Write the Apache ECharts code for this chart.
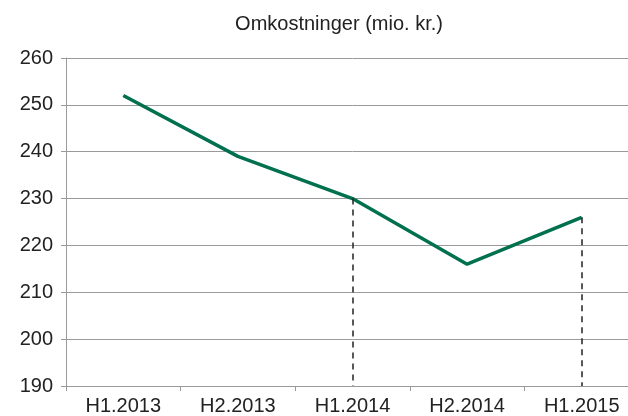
<!DOCTYPE html>
<html>
<head>
<meta charset="utf-8">
<script src="https://cdn.jsdelivr.net/npm/echarts@6/dist/echarts.min.js"></script>
<style>html,body{margin:0;padding:0;background:#fff;overflow:hidden;width:628px;height:416px;}#c{width:640px;height:416px;}</style>
</head>
<body>
<div id="c"></div>
<script>
const titleText = 'Omkostninger (mio. kr.)';
const categories = ['H1.2013', 'H2.2013', 'H1.2014', 'H2.2014', 'H1.2015'];
const costs = [252, 239, 230, 216, 226];
const dropCategories = ['H1.2014', 'H1.2015'];
const yMin = 190, yMax = 260, yStep = 10;

const dropLines = dropCategories.map(c => {
  const v = costs[categories.indexOf(c)];
  return [{ coord: [c, v] }, { coord: [c, yMin] }];
});

const chart = echarts.init(document.getElementById('c'), null, { renderer: 'canvas' });
chart.setOption({
  animation: false,
  backgroundColor: '#ffffff',
  textStyle: { fontFamily: 'Liberation Sans' },
  title: {
    text: titleText,
    left: 334, textAlign: 'center',
    top: 9,
    textStyle: { fontFamily: 'Liberation Sans', fontSize: 20, fontWeight: 'normal', color: '#222' }
  },
  grid: { left: 66, top: 58, right: 1, bottom: 30, containLabel: false },
  xAxis: {
    type: 'category',
    data: categories,
    boundaryGap: true,
    axisLine: { show: true, lineStyle: { color: '#9a9a9a', width: 1 } },
    axisTick: { show: true, length: 5, lineStyle: { color: '#9a9a9a' } },
    axisLabel: { color: '#222', fontSize: 20, margin: 10, fontFamily: 'Liberation Sans' },
    splitLine: { show: false }
  },
  yAxis: {
    type: 'value',
    min: yMin, max: yMax, interval: yStep,
    axisLine: { show: true, lineStyle: { color: '#9a9a9a', width: 1 } },
    axisTick: { show: true, length: 5, lineStyle: { color: '#9a9a9a' } },
    axisLabel: { color: '#222', fontSize: 20, margin: 13, fontFamily: 'Liberation Sans' },
    splitLine: { show: true, lineStyle: { color: '#9a9a9a', width: 1 } }
  },
  series: [{
    type: 'line',
    data: costs,
    symbol: 'none',
    lineStyle: { color: '#00704e', width: 3.5 },
    markLine: {
      silent: true,
      symbol: ['none', 'none'],
      label: { show: false },
      lineStyle: { color: '#222', width: 1.5, type: [6, 5] },
      data: dropLines
    }
  }]
});
</script>
</body>
</html>
